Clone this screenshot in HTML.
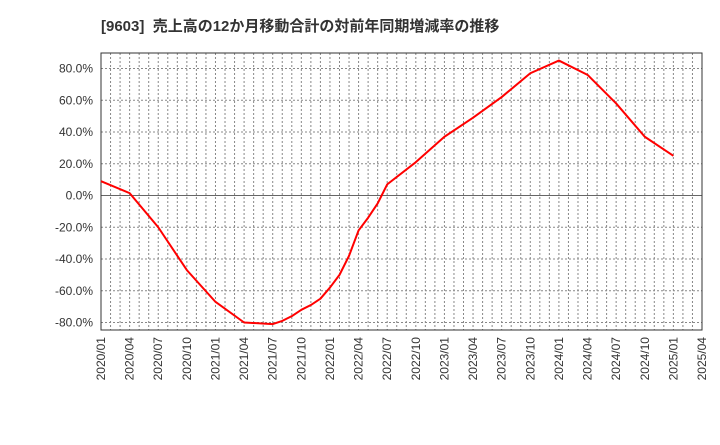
<!DOCTYPE html>
<html><head><meta charset="utf-8"><style>
body{margin:0;background:#fff;}
svg text{font-family:"Liberation Sans","Noto Sans CJK JP",sans-serif;}
</style></head><body>
<svg id="c" width="720" height="440" xmlns="http://www.w3.org/2000/svg">
<text x="101" y="31" font-size="15" font-weight="bold" fill="#333">[9603]&#160; 売上高の12か月移動合計の対前年同期増減率の推移</text>
<g id="grid"></g><g id="axes"></g><g id="series"></g>
</svg>
<script>
const dates=["2020/01","2020/04","2020/07","2020/10","2021/01","2021/04","2021/07","2021/08","2021/09","2021/10","2021/11","2021/12","2022/01","2022/02","2022/03","2022/04","2022/05","2022/06","2022/07","2022/10","2023/01","2023/04","2023/07","2023/10","2024/01","2024/04","2024/07","2024/10","2025/01"];
const values=[9,1.5,-20,-47,-67,-80,-81,-79,-76,-72,-69,-65,-58,-50,-38,-22,-14,-5,7,21,37,49,62,77,85,76,58,37,25];
const yTicks=[80,60,40,20,0,-20,-40,-60,-80];
const xTickLabels=["2020/01","2020/04","2020/07","2020/10","2021/01","2021/04","2021/07","2021/10","2022/01","2022/04","2022/07","2022/10","2023/01","2023/04","2023/07","2023/10","2024/01","2024/04","2024/07","2024/10","2025/01","2025/04"];
const L=101,R=702,T=53,B=330;
const NS="http://www.w3.org/2000/svg";
function mi(d){const [y,m]=d.split("/").map(Number);return (y-2020)*12+(m-1);}
const x=d=>L+mi(d)*(R-L)/63;
const y=v=>195.5-v*1.5875;
function mk(tag,attrs,parent){const e=document.createElementNS(NS,tag);for(const k in attrs)e.setAttribute(k,attrs[k]);parent.appendChild(e);return e;}
const grid=document.getElementById("grid"),axes=document.getElementById("axes"),ser=document.getElementById("series");
for(let m=1;m<63;m++){const xx=L+m*(R-L)/63;
const g=mk("line",{x1:xx,x2:xx,y1:T,y2:B,stroke:"#888","stroke-dasharray":"2,2","stroke-width":1},grid);

}
yTicks.forEach(v=>{
const l=mk("line",{x1:L,x2:R,y1:y(v),y2:y(v),stroke:v===0?"#666":"#888","stroke-dasharray":v===0?"":"2,2","stroke-width":1},grid);


const t=mk("text",{x:93,y:y(v)+4,"font-size":12,"text-anchor":"end",fill:"#333"},axes);
t.textContent=v.toFixed(1)+"%";

});
xTickLabels.forEach(d=>{const xx=x(d);
const t=mk("text",{x:0,y:0,"font-size":12,"text-anchor":"end",fill:"#333",transform:`translate(${xx+4},337) rotate(-90)`},axes);
t.textContent=d;

});
const f=mk("rect",{x:L,y:T,width:R-L,height:B-T,fill:"none",stroke:"#333","stroke-width":1},axes);


const p=mk("polyline",{points:dates.map((d,i)=>x(d)+","+y(values[i])).join(" "),fill:"none",stroke:"#f00","stroke-width":2,"stroke-linejoin":"round"},ser);


</script>
</body></html>
